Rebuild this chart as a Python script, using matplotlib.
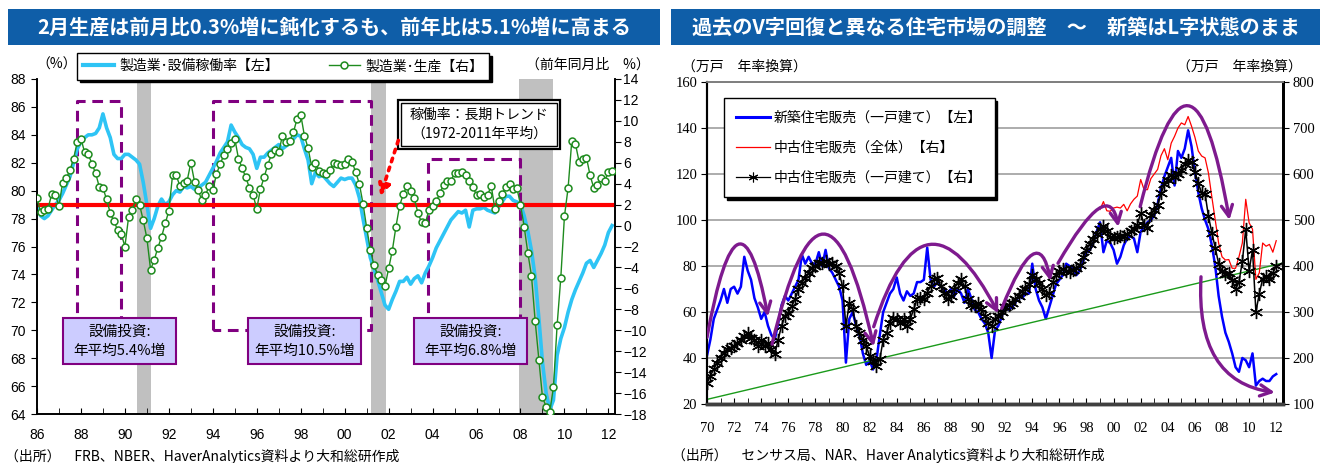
#!/usr/bin/env python3
"""US manufacturing utilisation / production and US housing sales, two panels."""

import matplotlib

matplotlib.use("Agg")
import matplotlib.pyplot as plt
import numpy as np
from matplotlib.lines import Line2D
from matplotlib.patches import FancyArrowPatch, Rectangle
from matplotlib.path import Path

plt.rcParams["font.family"] = ["Noto Sans CJK JP", "DejaVu Sans"]

# ---------------------------------------------------------------- data
LEFT_TITLE = "2月生産は前月比0.3%増に鈍化するも、前年比は5.1%増に高まる"
RIGHT_TITLE = "過去のV字回復と異なる住宅市場の調整　～　新築はL字状態のまま"

# manufacturing capacity utilisation (%), every two months from Jan 1986
util_start = 1986.0
util = [
    79.0, 78.2, 78.0, 78.2, 78.6, 79.0,
    79.3, 79.8, 80.4, 81.0, 82.0, 83.0,
    83.5, 83.8, 84.0, 84.0, 84.1, 84.5,
    85.5, 84.5, 83.8, 82.6, 82.3, 82.3,
    82.6, 82.6, 82.4, 82.2, 81.9, 80.6,
    79.0, 77.3, 78.0, 78.9, 79.4, 79.0,
    79.2, 79.7, 80.0, 79.9, 80.3, 80.2,
    80.3, 80.1, 80.2, 80.4, 80.6, 81.1,
    81.6, 82.1, 82.7, 83.1, 83.5, 84.7,
    84.2, 83.8, 83.3, 83.1, 83.0, 82.6,
    81.6, 82.4, 82.4, 82.7, 82.9, 83.1,
    83.3, 83.0, 83.2, 83.4, 83.7, 84.0,
    83.9, 83.0, 82.2, 80.5, 81.3, 81.0,
    81.1, 80.8, 80.5, 80.3, 80.6, 80.9,
    80.8, 80.9, 80.9, 80.4, 79.5, 78.0,
    76.6, 75.2, 74.4, 73.6, 72.7, 71.8,
    71.5, 72.2, 72.8, 73.5, 73.5, 73.8,
    73.3, 73.7, 73.9, 73.4, 74.1, 74.6,
    75.2, 75.9, 76.4, 76.9, 77.4, 77.9,
    78.2, 78.5, 78.4, 78.6, 77.4, 78.6,
    78.7, 78.7, 78.8, 78.6, 78.5, 78.4,
    78.8, 79.2, 79.6, 79.6, 79.3, 79.2,
    79.0, 78.2, 77.1, 75.7, 73.8, 70.9,
    67.7, 65.5, 64.3, 65.0, 68.2, 69.4,
    70.2, 71.3, 72.2, 72.9, 73.5, 74.1,
    74.8, 75.0, 74.5, 75.0, 75.5, 76.1,
    77.0, 77.5,
]

# manufacturing production, % y/y, same dates
prod = [
    2.6, 1.3, 1.5, 1.6, 3.0, 2.9,
    1.9, 4.1, 4.5, 5.3, 6.4, 8.0,
    8.3, 7.0, 6.8, 5.9, 5.0, 3.7,
    3.6, 2.5, 1.2, 0.4, -0.4, -0.8,
    -2.0, 0.8, 1.5, 2.5, 2.0, 0.5,
    -1.2, -4.2, -3.3, -2.1, -1.1, 0.2,
    1.4, 4.8, 4.8, 3.8, 4.1, 4.3,
    6.0, 4.2, 3.4, 2.4, 2.9, 3.8,
    3.4, 4.9, 5.9, 6.7, 7.3, 7.9,
    8.3, 6.4, 5.5, 4.6, 3.6, 2.9,
    1.6, 3.5, 4.6, 5.8, 6.8, 7.2,
    7.0, 8.6, 8.0, 8.1, 8.9, 10.2,
    10.6, 8.6, 7.4, 5.6, 6.0, 5.2,
    5.0, 4.9, 5.3, 6.0, 5.9, 5.8,
    5.9, 6.4, 6.1, 5.1, 4.0, 2.1,
    -0.2, -2.3, -3.8, -4.7, -5.2, -5.8,
    -4.1, -2.4, -0.1, 1.9, 3.0, 3.8,
    3.3, 2.6, 1.2, 0.3, 0.2, 1.5,
    1.9, 2.3, 3.1, 3.9, 4.3, 4.3,
    5.0, 5.0, 5.1, 4.8, 4.3, 3.7,
    2.9, 3.0, 2.7, 2.9, 3.8, 1.6,
    2.3, 3.0, 3.7, 4.0, 3.5, 3.6,
    2.0, -0.1, -2.6, -4.8, -9.1, -12.8,
    -16.4, -17.3, -17.8, -15.4, -9.5, -5.0,
    0.9, 3.6, 8.1, 7.8, 6.1, 6.4,
    6.5, 4.8, 3.6, 3.9, 4.5, 4.3,
    5.1, 5.2,
]

util_trend = 79.0  # 1972-2011 average
recessions = [(1990.55, 1991.2), (2001.2, 2001.9), (2007.95, 2009.5)]
capex_periods = [(1987.8, 1989.8, 86.4), (1994.0, 2001.2, 86.4), (2003.8, 2008.0, 82.3)]
capex_labels = ["設備投資:\n年平均5.4%増", "設備投資:\n年平均10.5%増", "設備投資:\n年平均6.8%増"]
left_xticks = list(range(1986, 2013, 2))
left_xlabels = ["86", "88", "90", "92", "94", "96", "98", "00", "02", "04", "06", "08", "10", "12"]

# housing, quarterly from 1970Q1 (10k units, annual rate)
sales_start = 1970.0
new_home = [
    41, 48, 57, 61, 65, 70, 64, 70, 71, 68, 71, 84,
    78, 74, 66, 62, 57, 60, 54, 50, 48, 55, 63, 67,
    65, 68, 71, 74, 85, 81, 84, 81, 81, 86, 80, 87,
    79, 77, 74, 71, 65, 38, 57, 60, 54, 50, 42, 37,
    39, 35, 39, 50, 60, 64, 68, 70, 75, 68, 65, 69,
    67, 68, 73, 73, 74, 88, 74, 71, 73, 71, 70, 68,
    70, 67, 70, 68, 64, 70, 66, 61, 60, 57, 55, 51,
    40, 52, 54, 58, 63, 61, 62, 64, 67, 66, 68, 68,
    81, 70, 65, 62, 57, 62, 67, 72, 74, 76, 81, 80,
    79, 76, 78, 82, 86, 87, 90, 95, 99, 86, 91, 90,
    87, 81, 84, 89, 92, 93, 92, 86, 95, 97, 99, 100,
    102, 107, 114, 119, 123, 127, 115, 130, 127, 131, 139, 132,
    121, 112, 105, 100, 96, 89, 80, 67, 58, 51, 47, 42,
    36, 34, 40, 39, 36, 42, 28, 30, 31, 30, 30, 32,
    33,
]
existing_single = [
    146, 161, 176, 190, 200, 211, 219, 222, 226, 233, 240, 248,
    255, 244, 240, 226, 240, 226, 233, 219, 208, 240, 270, 291,
    298, 313, 328, 350, 364, 375, 385, 396, 400, 407, 407, 411,
    404, 407, 400, 385, 356, 270, 320, 306, 270, 255, 240, 226,
    204, 193, 183, 197, 240, 255, 277, 288, 284, 277, 284, 270,
    284, 306, 328, 331, 328, 342, 356, 371, 375, 356, 342, 328,
    335, 350, 364, 371, 356, 328, 316, 313, 320, 306, 291, 277,
    270, 284, 291, 300, 310, 316, 320, 328, 335, 345, 350, 360,
    380, 372, 364, 350, 336, 342, 365, 380, 390, 393, 390, 388,
    392, 395, 402, 420, 435, 448, 458, 470, 480, 487, 475, 463,
    461, 464, 465, 465, 470, 475, 480, 490, 515, 490, 483, 510,
    522, 532, 558, 578, 588, 598, 594, 600, 608, 622, 630, 625,
    605, 580, 559, 557, 508, 472, 440, 405, 390, 382, 384, 370,
    350, 365, 410, 480, 390, 435, 300, 340, 372, 378, 372, 385,
    400,
]
total_start = 1999.0
existing_total = [
    523, 540, 520, 519, 526, 528, 526, 534, 520, 535, 545, 552,
    588, 566, 566, 590, 600, 610, 640, 655, 631, 667, 682, 700,
    711, 707, 725, 704, 680, 650, 639, 635, 602, 550, 500, 450,
    420, 413, 414, 395, 395, 420, 450, 545, 494, 480, 371, 385,
    450, 443, 447, 430, 455,
]
trend_years = [1970.0, 2012.5]
trend_level = [22.0, 81.3]
right_xticks = list(range(1970, 2013, 2))
right_xlabels = ["70", "72", "74", "76", "78", "80", "82", "84", "86", "88", "90",
                 "92", "94", "96", "98", "00", "02", "04", "06", "08", "10", "12"]

# ---------------------------------------------------------------- layout
W, H = 1330, 463
BAR_BLUE = "#0F5EA8"
PURPLE = "#800080"
SERIF = ["Liberation Serif", "DejaVu Serif"]
SANS = ["Liberation Sans", "Noto Sans CJK JP"]


def fig_rect(x0, y0, x1, y1):
    return [x0 / W, 1 - y1 / H, (x1 - x0) / W, (y1 - y0) / H]


fig = plt.figure(figsize=(W / 100, H / 100), dpi=100)

for x0, x1, title in [(8, 660, LEFT_TITLE), (671, 1320, RIGHT_TITLE)]:
    fig.add_artist(Rectangle((x0 / W, 1 - 45 / H), (x1 - x0) / W, 36 / H,
                             transform=fig.transFigure, facecolor=BAR_BLUE, edgecolor="none"))
    fig.text((x0 + x1) / 2 / W, 1 - 27 / H, title, color="white", fontsize=14.5,
             fontweight="bold", ha="center", va="center")

# ---------------------------------------------------------------- left panel
ax = fig.add_axes(fig_rect(37, 79, 615, 414))
ax2 = ax.twinx()

t_util = util_start + np.arange(len(util)) / 6
t_prod = util_start + np.arange(len(prod)) / 6

for a, b in recessions:
    ax.axvspan(a, b, color="#C0C0C0", lw=0, zorder=0)
for x0, x1, top in capex_periods:
    ax.plot([x0, x0, x1, x1, x0], [70, top, top, 70, 70], color=PURPLE, lw=2.2,
            ls=(0, (3.5, 2.2)), zorder=1)
ax.plot(t_util, util, color="#2EC4F5", lw=2.6, zorder=2, solid_joinstyle="round")
ax.axhline(util_trend, color="#FF0000", lw=3, zorder=3)
ax2.plot(t_prod, prod, color="#1E8B1E", lw=1, marker="o", ms=5, mfc="white",
         mec="#1E8B1E", mew=1.1, zorder=3)

ax.set_xlim(1986, 2012.3)
ax.set_ylim(64, 88)
ax2.set_ylim(-18, 14)
ax.set_yticks(range(64, 89, 2))
ax2.set_yticks(range(-18, 15, 2))
ax2.set_yticklabels([str(v).replace("-", "−") for v in range(-18, 15, 2)])
ax.set_xticks(left_xticks)
ax.set_xticklabels(left_xlabels)
ax.set_xticks(range(1986, 2013), minor=True)
ax.tick_params(axis="x", which="both", direction="in", length=4, pad=10, labelsize=10)
ax.tick_params(axis="y", direction="out", length=4, pad=4, labelsize=10)
ax2.tick_params(axis="y", direction="out", length=4, pad=2, labelsize=10)
for lab in ax.get_xticklabels() + ax.get_yticklabels() + ax2.get_yticklabels():
    lab.set_family(SANS)
for a in (ax, ax2):
    a.spines["top"].set_visible(False)
    for s in ("left", "right", "bottom"):
        a.spines[s].set_linewidth(1.2)

# capex label boxes, in utilisation/year coordinates
box_w, box_h, box_y = 5.15, 3.3, 69.2
label_centres = [1989.76, 1998.18, 2005.72]
for cx, text in zip(label_centres, capex_labels):
    ax2.add_patch(Rectangle((cx - box_w / 2, box_y - box_h / 2), box_w, box_h,
                            transform=ax.transData, facecolor="#CCCCFF",
                            edgecolor=PURPLE, lw=1.5, zorder=6))
    ax2.text(cx, box_y, text, transform=ax.transData, ha="center", va="center",
             fontsize=10.5, linespacing=1.45, zorder=7)

# long-run trend note with a double border
ax2.add_patch(Rectangle((0.6246, 0.791), 0.2802, 0.1463, transform=ax.transAxes,
                        facecolor="white", edgecolor="black", lw=1.6, zorder=6))
ax2.add_patch(Rectangle((0.6300, 0.800), 0.2694, 0.1283, transform=ax.transAxes,
                        facecolor="none", edgecolor="black", lw=1.0, zorder=7))
ax2.text(0.7647, 0.864, "稼働率：長期トレンド\n（1972-2011年平均）", transform=ax.transAxes,
         ha="center", va="center", fontsize=10, linespacing=1.45, zorder=8)
ax2.annotate("", xy=(2001.62, 79.6), xytext=(2002.44, 83.6),
             xycoords=ax.transData, textcoords=ax.transData,
             arrowprops=dict(arrowstyle="-|>,head_length=0.7,head_width=0.35",
                             color="#FF0000", lw=2.6, ls=(0, (1, 1.6)),
                             shrinkA=0, shrinkB=0), zorder=8)

left_handles = [
    Line2D([], [], color="#2EC4F5", lw=3),
    Line2D([], [], color="#1E8B1E", lw=1, marker="o", ms=5, mfc="white", mew=1.1),
]
leg = ax2.legend(left_handles, ["製造業･設備稼働率【左】", "製造業･生産【右】"],
                 loc="upper left", bbox_to_anchor=(77 / W, 1 - 53 / H),
                 bbox_transform=fig.transFigure, ncol=2, fontsize=10,
                 frameon=True, fancybox=False, edgecolor="black", framealpha=1,
                 shadow={"color": "black", "alpha": 1}, handlelength=2.2,
                 handletextpad=0.4, columnspacing=3.6, borderpad=0.45,
                 borderaxespad=0)
leg.get_frame().set_linewidth(1.0)
leg.set_zorder(10)

fig.text(36 / W, 1 - 65 / H, "（%）", fontsize=10, ha="left", va="center")
fig.text(650 / W, 1 - 65 / H, "（前年同月比　%）", fontsize=10, ha="right", va="center")
fig.text(5 / W, 1 - 456 / H, "（出所）　FRB、NBER、HaverAnalytics資料より大和総研作成",
         fontsize=10, ha="left", va="center")

# ---------------------------------------------------------------- right panel
bx = fig.add_axes(fig_rect(707, 82, 1283, 404))
bx2 = bx.twinx()

t_q = sales_start + np.arange(len(new_home)) / 4
t_single = sales_start + np.arange(len(existing_single)) / 4
t_total = total_start + np.arange(len(existing_total)) / 4

bx.yaxis.grid(True, color="#A6A6A6", lw=1.3)
bx.set_axisbelow(True)
bx.plot(t_q, new_home, color="#0000FF", lw=1.8, zorder=2)
bx.plot(trend_years, trend_level, color="#1A9A1A", lw=1.0, zorder=3)
bx2.plot(t_total, existing_total, color="#FF0000", lw=0.9, zorder=2)
bx2.plot(t_single, existing_single, color="black", lw=1.1, marker=(6, 2, 0), ms=9.5,
         mew=1.0, zorder=3)

bx.set_xlim(1970, 2012.5)
bx.set_ylim(20, 160)
bx2.set_ylim(100, 800)
bx.set_yticks(range(20, 161, 20))
bx2.set_yticks(range(100, 801, 100))
bx.set_xticks(right_xticks)
bx.set_xticklabels(right_xlabels)
bx.set_xticks(range(1970, 2013), minor=True)
bx.tick_params(axis="x", which="both", direction="in", length=4, pad=13, labelsize=10.5)
bx.tick_params(axis="y", direction="out", length=4, pad=3, labelsize=10.5)
bx2.tick_params(axis="y", direction="out", length=4, pad=3, labelsize=10.5)
for lab in bx.get_xticklabels() + bx.get_yticklabels() + bx2.get_yticklabels():
    lab.set_family(SERIF)
for a in (bx, bx2):
    a.spines["top"].set_color("#808080")
    a.spines["top"].set_linewidth(1.3)
    a.spines["left"].set_linewidth(1.5)
    a.spines["right"].set_linewidth(2.0)
    a.spines["bottom"].set_color("#404040")
    a.spines["bottom"].set_linewidth(2.5)

# purple swings over the sales lines: start, middle of the curve, arrow tip
swings = [
    ((1970.0, 49), (1972.3, 89), (1974.5, 58)),
    ((1974.8, 46), (1978.6, 93.5), (1982.3, 45)),
    ((1982.3, 53.6), (1986.45, 89), (1991.5, 59.4)),
    ((1991.75, 61.6), (1994.0, 84.5), (1995.35, 73.5)),
    ((1995.9, 81.2), (1998.9, 104.5), (2000.35, 97)),
    ((2001.96, 105.8), (2005.5, 149.3), (2008.55, 100)),
    ((2006.45, 75.3), (2007.6, 40), (2011.9, 25)),
]
for start, mid, tip in swings:
    p0, pm, p2 = np.array(start), np.array(mid), np.array(tip)
    ctrl = 2 * pm - (p0 + p2) / 2
    curve = Path([p0, ctrl, p2], [Path.MOVETO, Path.CURVE3, Path.CURVE3])
    bx2.add_patch(FancyArrowPatch(path=curve, transform=bx.transData,
                                  arrowstyle="->,head_length=0.8,head_width=0.4",
                                  mutation_scale=10, color="#7E1A8E", lw=2.4,
                                  zorder=5))

right_handles = [
    Line2D([], [], color="#0000FF", lw=2.2),
    Line2D([], [], color="#FF0000", lw=0.9),
    Line2D([], [], color="black", lw=0.9, marker=(6, 2, 0), ms=7, mew=0.8),
]
leg2 = bx2.legend(right_handles,
                  ["新築住宅販売（一戸建て）【左】", "中古住宅販売（全体）【右】",
                   "中古住宅販売（一戸建て）【右】"],
                  loc="upper left", bbox_to_anchor=(724 / W, 1 - 98 / H),
                  bbox_transform=fig.transFigure, fontsize=10, frameon=True,
                  fancybox=False, edgecolor="black", framealpha=1,
                  shadow={"color": "black", "alpha": 1}, handlelength=2.4,
                  handletextpad=0.3, labelspacing=1.15, borderpad=0.9,
                  borderaxespad=0)
leg2.get_frame().set_linewidth(1.0)
leg2.set_zorder(10)

fig.text(682 / W, 1 - 67 / H, "（万戸　年率換算）", fontsize=10, ha="left", va="center")
fig.text(1302 / W, 1 - 67 / H, "（万戸　年率換算）", fontsize=10, ha="right", va="center")
fig.text(672 / W, 1 - 455 / H, "（出所）　センサス局、NAR、Haver Analytics資料より大和総研作成",
         fontsize=10, ha="left", va="center")

fig.savefig("out.png", dpi=100)
